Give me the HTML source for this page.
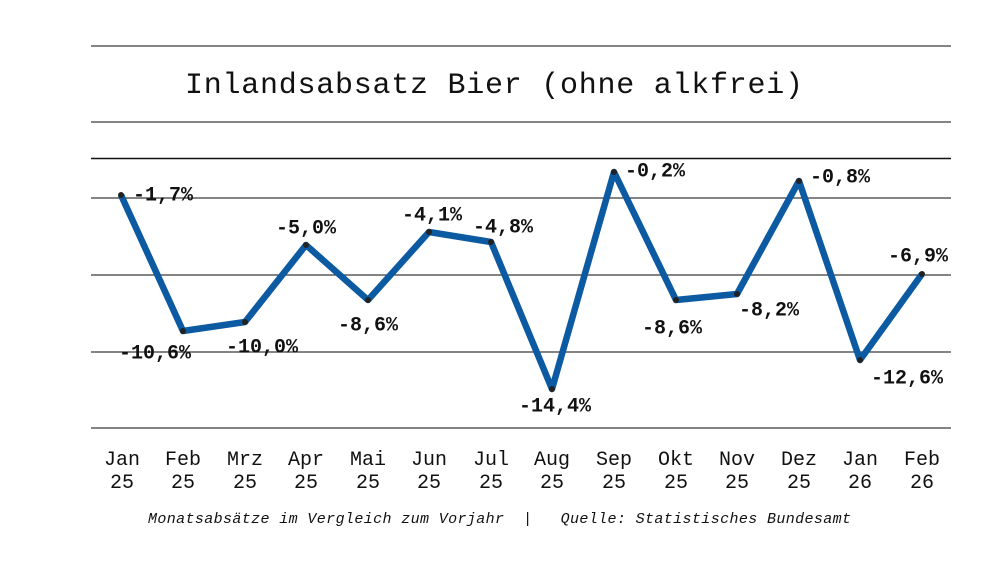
<!DOCTYPE html>
<html><head><meta charset="utf-8"><style>
html,body{margin:0;padding:0;background:#fff;}
svg{display:block;}
text{font-family:"Liberation Mono",monospace;fill:#111;}
.l{font-size:20px;font-weight:bold;dominant-baseline:central;}
.ax{font-size:20px;text-anchor:middle;}
</style></head><body>
<svg width="1000" height="563" viewBox="0 0 1000 563">
<g stroke="#3a3a3a" stroke-width="1.2">
<line x1="91" x2="951" y1="46" y2="46"/>
<line x1="91" x2="951" y1="122" y2="122"/>
<line x1="91" x2="951" y1="158.5" y2="158.5" stroke-width="1.6" stroke="#111"/>
<line x1="91" x2="951" y1="198" y2="198"/>
<line x1="91" x2="951" y1="275" y2="275"/>
<line x1="91" x2="951" y1="352" y2="352"/>
<line x1="91" x2="951" y1="428" y2="428"/>
</g>
<text x="494" y="93" font-size="30" text-anchor="middle" textLength="618">Inlandsabsatz Bier (ohne alkfrei)</text>
<polyline fill="none" stroke="#0b5aa2" stroke-width="6.5" stroke-linejoin="round" points="121,195 183,331 245,322 306,245 368,300 429,232 491,242 552,389 614,172 676,300 737,294 799,181 860,360 922,274"/>
<g fill="#222">
<circle cx="121" cy="195" r="3"/><circle cx="183" cy="331" r="3"/><circle cx="245" cy="322" r="3"/><circle cx="306" cy="245" r="3"/><circle cx="368" cy="300" r="3"/><circle cx="429" cy="232" r="3"/><circle cx="491" cy="242" r="3"/><circle cx="552" cy="389" r="3"/><circle cx="614" cy="172" r="3"/><circle cx="676" cy="300" r="3"/><circle cx="737" cy="294" r="3"/><circle cx="799" cy="181" r="3"/><circle cx="860" cy="360" r="3"/><circle cx="922" cy="274" r="3"/>
</g>
<g class="l">
<text class="l" x="133" y="196">-1,7%</text>
<text class="l" x="155" y="354" text-anchor="middle">-10,6%</text>
<text class="l" x="262" y="348" text-anchor="middle">-10,0%</text>
<text class="l" x="306" y="229" text-anchor="middle">-5,0%</text>
<text class="l" x="368" y="326" text-anchor="middle">-8,6%</text>
<text class="l" x="432" y="216" text-anchor="middle">-4,1%</text>
<text class="l" x="503" y="228" text-anchor="middle">-4,8%</text>
<text class="l" x="555" y="407" text-anchor="middle">-14,4%</text>
<text class="l" x="625" y="172">-0,2%</text>
<text class="l" x="672" y="329" text-anchor="middle">-8,6%</text>
<text class="l" x="769" y="311" text-anchor="middle">-8,2%</text>
<text class="l" x="810" y="178">-0,8%</text>
<text class="l" x="907" y="379" text-anchor="middle">-12,6%</text>
<text class="l" x="918" y="257" text-anchor="middle">-6,9%</text>
</g>
<g class="ax">
<text class="ax" x="122" y="465">Jan</text><text class="ax" x="122" y="488">25</text>
<text class="ax" x="183" y="465">Feb</text><text class="ax" x="183" y="488">25</text>
<text class="ax" x="245" y="465">Mrz</text><text class="ax" x="245" y="488">25</text>
<text class="ax" x="306" y="465">Apr</text><text class="ax" x="306" y="488">25</text>
<text class="ax" x="368" y="465">Mai</text><text class="ax" x="368" y="488">25</text>
<text class="ax" x="429" y="465">Jun</text><text class="ax" x="429" y="488">25</text>
<text class="ax" x="491" y="465">Jul</text><text class="ax" x="491" y="488">25</text>
<text class="ax" x="552" y="465">Aug</text><text class="ax" x="552" y="488">25</text>
<text class="ax" x="614" y="465">Sep</text><text class="ax" x="614" y="488">25</text>
<text class="ax" x="676" y="465">Okt</text><text class="ax" x="676" y="488">25</text>
<text class="ax" x="737" y="465">Nov</text><text class="ax" x="737" y="488">25</text>
<text class="ax" x="799" y="465">Dez</text><text class="ax" x="799" y="488">25</text>
<text class="ax" x="860" y="465">Jan</text><text class="ax" x="860" y="488">26</text>
<text class="ax" x="922" y="465">Feb</text><text class="ax" x="922" y="488">26</text>
</g>
<text x="148" y="523" font-size="15" font-style="italic" textLength="703" xml:space="preserve">Monatsabsätze im Vergleich zum Vorjahr  |   Quelle: Statistisches Bundesamt</text>
</svg>
</body></html>
